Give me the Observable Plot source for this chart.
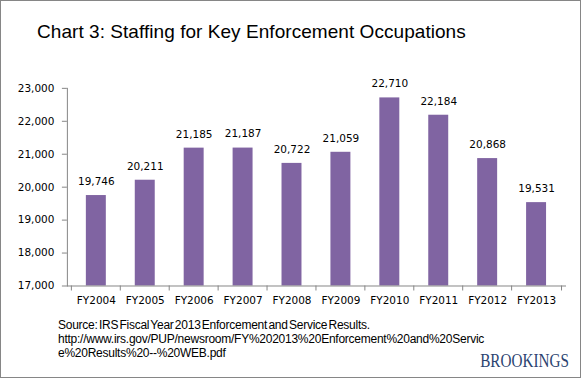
<!DOCTYPE html>
<html><head><meta charset="utf-8">
<script src="https://cdn.jsdelivr.net/npm/d3@7"></script>
<script src="https://cdn.jsdelivr.net/npm/@observablehq/plot@0.6"></script>
<style>
html,body{margin:0;padding:0;background:#fff;}
#wrap{position:relative;width:579px;height:376px;border:1px solid #868686;overflow:hidden;font-family:"Liberation Sans",Arial,sans-serif;}
#chart{position:absolute;left:-1px;top:-1px;}
#title{position:absolute;left:36px;top:20px;font-size:19px;color:#000;white-space:nowrap;letter-spacing:0.05px;}
#source{position:absolute;left:57px;top:317px;font-size:12px;line-height:14px;color:#000;letter-spacing:-0.25px;word-spacing:-1.8px;white-space:nowrap;}
#logo{position:absolute;right:11px;top:349px;font-family:"Liberation Serif","Times New Roman",serif;font-size:19px;color:#2b4370;white-space:nowrap;transform:scaleX(0.8);transform-origin:right center;}
</style></head>
<body>
<div id="wrap">
<div id="chart"></div>
<div id="title">Chart 3: Staffing for Key Enforcement Occupations</div>
<div id="source">Source: IRS Fiscal Year 2013 Enforcement and Service Results.<br>http://www.irs.gov/PUP/newsroom/FY%202013%20Enforcement%20and%20Servic<br>e%20Results%20--%20WEB.pdf</div>
<div id="logo">BROOKINGS</div>
</div>
<script>
const years = ["FY2004","FY2005","FY2006","FY2007","FY2008","FY2009","FY2010","FY2011","FY2012","FY2013"];
const staffing = [19746,20211,21185,21187,20722,21059,22710,22184,20868,19531];
const yTicks = [17000,18000,19000,20000,21000,22000,23000];

const data = years.map((y,i)=>({year:y, value:staffing[i]}));
const fmt = d3.format(",");
const axisColor = "#868686";

const plot = Plot.plot({
  width: 581,
  height: 378,
  marginLeft: 67,
  marginRight: 15,
  marginTop: 88,
  marginBottom: 92,
  style: {fontFamily: "'DejaVu Sans', sans-serif", fontSize: "10.5px", color: "#000", background: "transparent"},
  x: {domain: years, paddingInner: 0.6, paddingOuter: 0.3, label: null, axis: null},
  y: {domain: [17000, 23000], label: null, axis: null},
  marks: [
    Plot.barY(data, {x: "year", y1: 17000, y2: "value", fill: "#8064A2"}),
    Plot.frame({anchor: "left", stroke: axisColor}),
    Plot.frame({anchor: "bottom", stroke: axisColor}),
    Plot.axisY({ticks: yTicks, tickFormat: fmt, tickSize: 5, tickPadding: 8, stroke: axisColor, label: null}),
    Plot.axisX({tickSize: 0, tickPadding: 11, label: null}),
    Plot.ruleX(years, {x: d=>d, dx: -25, y1: 17000, y2: 17000, insetBottom: -5, stroke: axisColor}),
    Plot.ruleX([years[years.length-1]], {x: d=>d, dx: 25, y1: 17000, y2: 17000, insetBottom: -5, stroke: axisColor}),
    Plot.text(data, {x: "year", y: "value", text: d => fmt(d.value), dy: -14, fill: "#000", fontSize: 10.5})
  ]
});
document.getElementById("chart").appendChild(plot);
</script>
</body></html>
